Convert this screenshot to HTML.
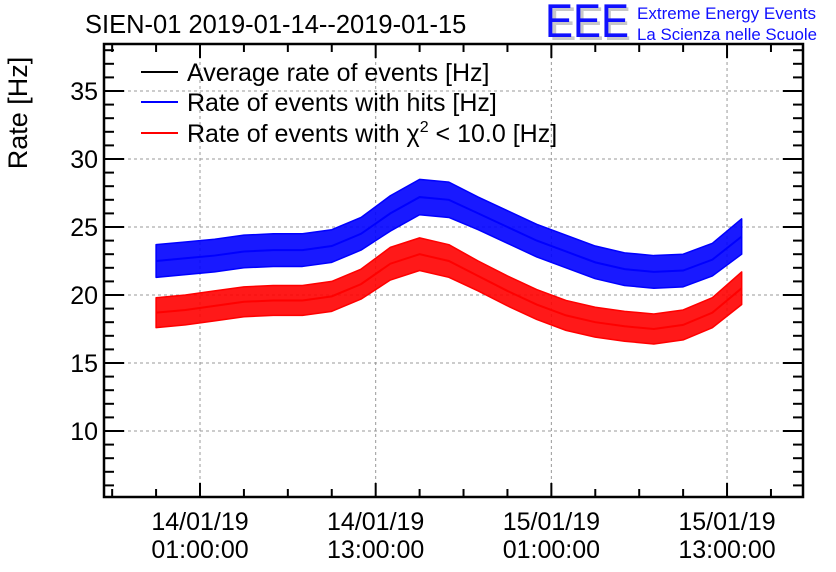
<!DOCTYPE html>
<html><head><meta charset="utf-8"><style>
html,body{margin:0;padding:0;background:#fff}
svg{display:block;font-family:"Liberation Sans",Arial,sans-serif}
</style></head><body>
<svg id="c" width="836" height="572" viewBox="0 0 836 572">
<text x="85" y="33" font-size="25.5">SIEN-01 2019-01-14--2019-01-15</text>
<g>
<text x="549" y="40" font-size="47" fill="#c8c8c8" textLength="82" lengthAdjust="spacingAndGlyphs">EEE</text>
<text x="545" y="37" font-size="47" fill="#1010ff" textLength="84" lengthAdjust="spacingAndGlyphs">EEE</text>
<text x="637" y="19" font-size="16.5" fill="#1010ff" textLength="179" lengthAdjust="spacingAndGlyphs">Extreme Energy Events</text>
<text x="637" y="40" font-size="16.5" fill="#1010ff" textLength="180" lengthAdjust="spacingAndGlyphs">La Scienza nelle Scuole</text>
</g>
<text transform="translate(27,113) rotate(-90)" text-anchor="middle" font-size="27">Rate [Hz]</text>
<g id="grid"></g><g id="series"></g><g id="axes"></g>
<g>
<line x1="141" y1="72" x2="178" y2="72" stroke="#000" stroke-width="2"/>
<text x="187" y="81" font-size="25">Average rate of events [Hz]</text>
<line x1="141" y1="102" x2="178" y2="102" stroke="#0000ff" stroke-width="2"/>
<text x="187" y="111" font-size="25">Rate of events with hits [Hz]</text>
<line x1="141" y1="133" x2="178" y2="133" stroke="#ff0000" stroke-width="2"/>
<text x="187" y="142" font-size="25">Rate of events with χ<tspan dy="-10" font-size="16">2</tspan><tspan dy="10"> &lt; 10.0 [Hz]</tspan></text>
</g>
</svg>
<script>
const hours=[-2,0,2,4,6,8,10,12,14,16,18,20,22,24,26,28,30,32,34,36,38];
const blueVals=[22.5,22.7,22.9,23.2,23.3,23.3,23.6,24.5,26.0,27.2,27.0,26.0,25.0,24.0,23.2,22.4,21.9,21.7,21.8,22.6,24.3];
const redVals=[18.7,18.9,19.2,19.5,19.6,19.6,19.9,20.8,22.3,23.0,22.5,21.4,20.3,19.3,18.5,18.0,17.7,17.5,17.8,18.7,20.5];
const blueSpread=[1.2,1.2,1.2,1.2,1.2,1.2,1.2,1.2,1.3,1.3,1.3,1.2,1.2,1.2,1.2,1.2,1.2,1.2,1.2,1.2,1.3];
const redSpread=[1.1,1.1,1.1,1.1,1.1,1.1,1.1,1.1,1.2,1.2,1.2,1.1,1.1,1.1,1.1,1.1,1.1,1.1,1.1,1.1,1.2];
const yTicks=[10,15,20,25,30,35];
const xTickHours=[1,13,25,37];
const xTickLabels=[["14/01/19","01:00:00"],["14/01/19","13:00:00"],["15/01/19","01:00:00"],["15/01/19","13:00:00"]];
const L=104,R=803,T=44,B=497;
const X=h=>200+(h-1)*14.64;
const Y=v=>91+(35-v)*13.6;
const NS="http://www.w3.org/2000/svg";
function mk(t,a,p){const e=document.createElementNS(NS,t);for(const k in a)e.setAttribute(k,a[k]);p.appendChild(e);return e;}
const grid=document.getElementById('grid'),axes=document.getElementById('axes'),ser=document.getElementById('series');
yTicks.forEach(v=>{const g=mk('line',{x1:L,x2:R,y1:Y(v),y2:Y(v),stroke:'#999','stroke-dasharray':'3,3','stroke-width':1},grid);


const t=mk('text',{x:L-6,y:Y(v)+9,'text-anchor':'end','font-size':25},axes);t.textContent=v;


mk('line',{x1:L,x2:L+20,y1:Y(v),y2:Y(v),stroke:'#000','stroke-width':2},axes);
mk('line',{x1:R,x2:R-20,y1:Y(v),y2:Y(v),stroke:'#000','stroke-width':2},axes);});
for(let v=6;v<=38;v++){if(v%5){mk('line',{x1:L,x2:L+10,y1:Y(v),y2:Y(v),stroke:'#000','stroke-width':2},axes);
mk('line',{x1:R,x2:R-10,y1:Y(v),y2:Y(v),stroke:'#000','stroke-width':2},axes);}}
xTickHours.forEach((h,i)=>{const g=mk('line',{x1:X(h),x2:X(h),y1:T,y2:B,stroke:'#999','stroke-dasharray':'3,3','stroke-width':1},grid);


const t=mk('text',{x:X(h),y:530,'text-anchor':'middle','font-size':25},axes);t.textContent=xTickLabels[i][0];


const t2=mk('text',{x:X(h),y:558,'text-anchor':'middle','font-size':25},axes);t2.textContent=xTickLabels[i][1];

});
for(let h=-5;h<=43;h+=3){const x=X(h);if(x<L+2||x>R-2)continue;const maj=xTickHours.includes(h);
mk('line',{x1:x,x2:x,y1:B,y2:B-(maj?14:8),stroke:'#000','stroke-width':2},axes);
mk('line',{x1:x,x2:x,y1:T,y2:T+(maj?14:8),stroke:'#000','stroke-width':2},axes);}
const fr=mk('rect',{x:L,y:T,width:R-L,height:B-T,fill:'none',stroke:'#000','stroke-width':2.5},axes);


function band(vals,sp,col,name){let up=[],dn=[],mid=[];
hours.forEach((h,i)=>{up.push(X(h)+','+Y(vals[i]+sp[i]));dn.unshift(X(h)+','+Y(vals[i]-sp[i]));mid.push(X(h)+','+Y(vals[i]));});
const p=mk('polygon',{points:up.concat(dn).join(' '),fill:col,'fill-opacity':0.9,stroke:col,'stroke-width':1.5,'stroke-linejoin':'round'},ser);


const l=mk('polyline',{points:mid.join(' '),fill:'none',stroke:col,'stroke-width':2},ser);

}
band(blueVals,blueSpread,'#0000ff','rate-hits');
band(redVals,redSpread,'#ff0000','rate-chi2');
</script>
</body></html>
